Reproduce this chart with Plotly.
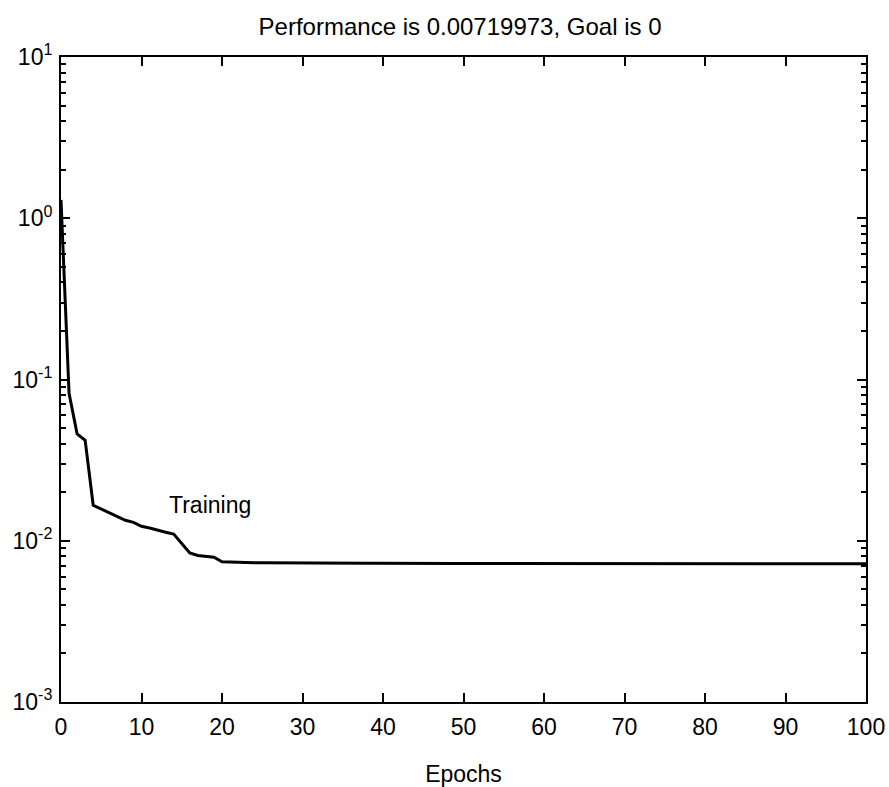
import plotly.graph_objects as go

epochs = list(range(0, 101))
performance = [
    1.30, 0.082, 0.046, 0.042, 0.0166, 0.0157, 0.0149, 0.0141, 0.0134, 0.0130,
    0.0123, 0.0120, 0.0116, 0.0113, 0.0110, 0.0096, 0.0084, 0.0081, 0.0080, 0.0079,
    0.00740, 0.00736, 0.00734, 0.00732, 0.00731, 0.00730, 0.00729, 0.00728, 0.00728, 0.00727,
    0.00727, 0.00726, 0.00726, 0.00725, 0.00725, 0.00725, 0.00724, 0.00724, 0.00724, 0.00724,
    0.00723, 0.00723, 0.00723, 0.00723, 0.00723, 0.00722, 0.00722, 0.00722, 0.00722, 0.00722,
    0.00722, 0.00722, 0.00721, 0.00721, 0.00721, 0.00721, 0.00721, 0.00721, 0.00721, 0.00721,
    0.00721, 0.00721, 0.00721, 0.00721, 0.00720, 0.00720, 0.00720, 0.00720, 0.00720, 0.00720,
    0.00720, 0.00720, 0.00720, 0.00720, 0.00720, 0.00720, 0.00720, 0.00720, 0.00720, 0.00720,
    0.00720, 0.00720, 0.00720, 0.00720, 0.00720, 0.00720, 0.00720, 0.00720, 0.00720, 0.00720,
    0.00720, 0.00720, 0.00720, 0.00720, 0.00720, 0.00720, 0.00720, 0.00720, 0.00720, 0.00720,
    0.0071997,
]

x_ticks = [0, 10, 20, 30, 40, 50, 60, 70, 80, 90, 100]
y_ticks = [0.001, 0.01, 0.1, 1, 10]
y_tick_text = ["10<sup>-3</sup>", "10<sup>-2</sup>", "10<sup>-1</sup>", "10<sup>0</sup>", "10<sup>1</sup>"]
y_minor = [m * d for d in [0.001, 0.01, 0.1, 1] for m in range(2, 10)]

title_text = "Performance is 0.00719973, Goal is 0"
x_label = "Epochs"
series_label = "Training"

font_family = "Liberation Sans, Arial, sans-serif"

fig = go.Figure()
fig.add_trace(go.Scatter(
    x=epochs, y=performance, mode="lines",
    line=dict(color="black", width=3),
    showlegend=False,
))

fig.add_annotation(
    x=13.2, y=-1.78, xref="x", yref="y",
    text=series_label, showarrow=False,
    xanchor="left", yanchor="middle",
    font=dict(family=font_family, size=23, color="black"),
)

fig.update_layout(
    width=889, height=787,
    margin=dict(l=61, r=23, t=57, b=85),
    paper_bgcolor="white", plot_bgcolor="white",
    title=dict(
        text=title_text, x=0.5175, xanchor="center", y=0.966, yanchor="middle",
        font=dict(family=font_family, size=24, color="black"),
    ),
    font=dict(family=font_family, color="black"),
)

fig.update_xaxes(
    range=[0, 100], tickmode="array", tickvals=x_ticks,
    ticks="inside", ticklen=9, tickwidth=2, tickcolor="black",
    showline=True, linecolor="black", linewidth=2, mirror="ticks",
    showgrid=False, zeroline=False, automargin=False,
    tickfont=dict(family=font_family, size=23, color="black"),
    ticklabelstandoff=3,
    title=dict(text=x_label, font=dict(family=font_family, size=23, color="black"), standoff=30),
)

fig.update_yaxes(
    type="log", range=[-3, 1], tickmode="array", tickvals=y_ticks, ticktext=y_tick_text,
    ticks="inside", ticklen=9, tickwidth=2, tickcolor="black",
    minor=dict(tickmode="array", tickvals=y_minor, ticks="inside", ticklen=5, tickwidth=1.5, tickcolor="black"),
    showline=True, linecolor="black", linewidth=2, mirror="ticks",
    showgrid=False, zeroline=False, automargin=False,
    tickfont=dict(family=font_family, size=23, color="black"),
    ticklabelstandoff=2,
)

fig.write_html("out.html")
